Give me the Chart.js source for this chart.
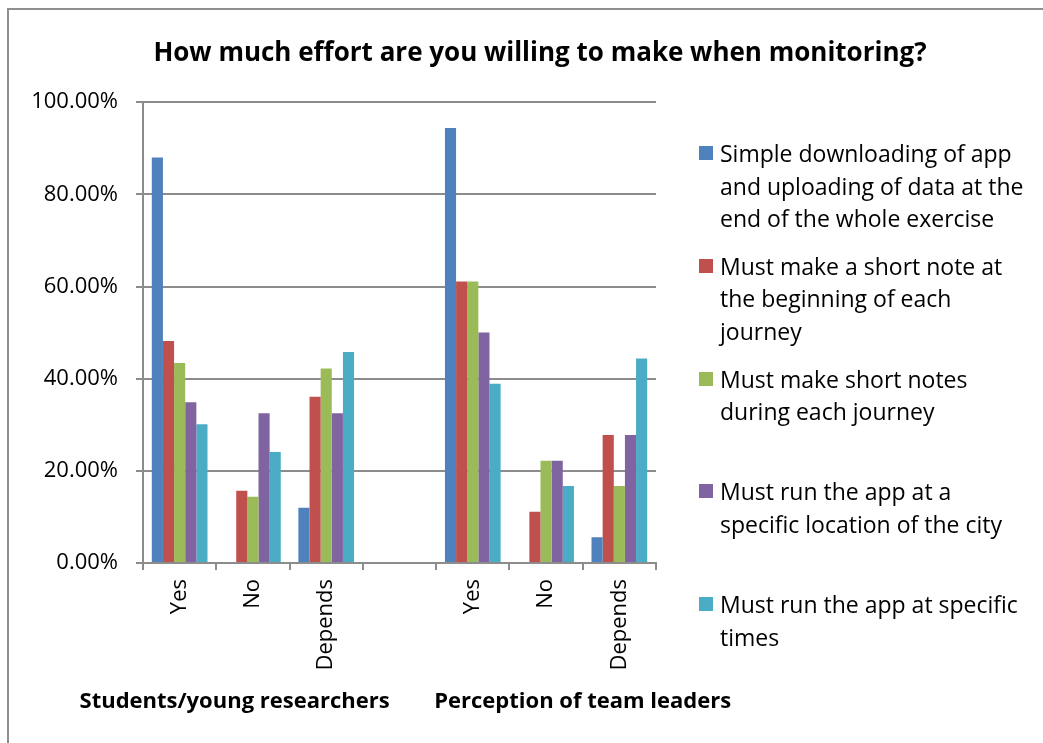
<!DOCTYPE html>
<html>
<head>
<meta charset="utf-8">
<script src="https://cdn.jsdelivr.net/npm/chart.js@4"></script>
<style>
  html, body { margin: 0; padding: 0; background: #fff; }
  #wrap { position: relative; width: 1043px; height: 743px; overflow: hidden; }
  #frame { position: absolute; left: 7px; top: 8px; right: -4px; bottom: -4px;
           border-left: 2px solid #8f8f8f; border-top: 2px solid #8f8f8f; }
  canvas { position: absolute; left: 0; top: 0; }
  #legend { position: absolute; left: 0; top: 0; font-family: 'Open Sans', sans-serif;
            font-size: 23px; line-height: 32.5px; color: #000; }
  .item { position: absolute; left: 699px; }
  .box { position: absolute; left: 0; top: 9px; width: 14px; height: 14px; }
  .txt { position: absolute; left: 21px; top: 0; white-space: nowrap; }
</style>
</head>
<body>
<div id="wrap">
  <div id="frame"></div>
  <canvas id="chart" width="1043" height="743"></canvas>
  <div id="legend"></div>
</div>
<script>
const categories = ['Yes', 'No', 'Depends', '', 'Yes', 'No', 'Depends'];
const groupLabels = ['Students/young researchers', 'Perception of team leaders'];

const seriesLabels = [
    ['Simple downloading of app', 'and uploading of data at the', 'end of the whole exercise'],
    ['Must make a short note at', 'the beginning of each', 'journey'],
    ['Must make short notes', 'during each journey'],
    ['Must run the app at a', 'specific location of the city'],
    ['Must run the app at specific', 'times']
];
const simpleDownload = [88.0, 0, 12.0, null, 94.4, 0, 5.6];
const shortNoteStart = [48.2, 15.7, 36.1, null, 61.1, 11.1, 27.8];
const shortNotesDuring = [43.4, 14.4, 42.2, null, 61.1, 22.2, 16.7];
const specificLocation = [34.9, 32.5, 32.5, null, 50.0, 22.2, 27.8];
const specificTimes = [30.1, 24.1, 45.8, null, 38.9, 16.7, 44.4];
const yTicks = [0, 20, 40, 60, 80, 100];

const colors = ['#4F81BD', '#C0504D', '#9BBB59', '#8064A2', '#4BACC6'];
const seriesValues = [simpleDownload, shortNoteStart, shortNotesDuring, specificLocation, specificTimes];
const gridColor = '#8c8c8c';

Chart.defaults.font.family = "'Open Sans', sans-serif";
Chart.defaults.color = '#000';

// group names under the category labels
const groupLabelPlugin = {
    id: 'groupLabels',
    afterDraw(chart) {
        const x = chart.scales.x;
        const ctx = chart.ctx;
        const centers = [x.getPixelForDecimal(1.25 / 7), x.getPixelForDecimal(6 / 7)];
        ctx.save();
        ctx.font = "bold 22px 'Open Sans', sans-serif";
        ctx.fillStyle = '#000';
        ctx.textAlign = 'center';
        ctx.textBaseline = 'middle';
        groupLabels.forEach((g, i) => ctx.fillText(g, centers[i], 702));
        ctx.restore();
    }
};

new Chart(document.getElementById('chart').getContext('2d'), {
    type: 'bar',
    data: {
        labels: categories,
        datasets: seriesValues.map((vals, i) => ({
            label: seriesLabels[i].join(' '),
            data: vals,
            backgroundColor: colors[i],
            borderWidth: 0,
            categoryPercentage: 0.76,
            barPercentage: 1.0
        }))
    },
    options: {
        responsive: false,
        animation: false,
        // right padding < 0 so the title centres where the original one does
        layout: { padding: { left: 20, right: -17, top: 0, bottom: 0 } },
        plugins: {
            legend: { display: false },
            tooltip: { enabled: false },
            title: {
                display: true,
                text: 'How much effort are you willing to make when monitoring?',
                font: { size: 26, weight: 'bold', lineHeight: 1.2 },
                color: '#000',
                padding: { top: 38, bottom: 33 }
            }
        },
        scales: {
            x: {
                afterFit(scale) { scale.height = 180; },
                grid: {
                    offset: true,
                    drawOnChartArea: false,
                    tickLength: 7,
                    color: gridColor,
                    lineWidth: 2
                },
                border: { color: gridColor, width: 2 },
                ticks: {
                    autoSkip: false,
                    minRotation: 90,
                    maxRotation: 90,
                    padding: 9,
                    font: { size: 22 }
                }
            },
            y: {
                min: 0,
                max: 100,
                afterFit(scale) { scale.width = 123; },
                afterBuildTicks(scale) { scale.ticks = yTicks.map(v => ({ value: v })); },
                grid: { color: gridColor, lineWidth: 2, tickLength: 7 },
                border: { color: gridColor, width: 2 },
                ticks: {
                    padding: 18,
                    font: { size: 22 },
                    callback: v => v.toFixed(2) + '%'
                }
            },
            legendSpace: {
                type: 'linear',
                position: 'right',
                display: true,
                afterFit(scale) { scale.width = 404; },
                grid: { display: false },
                border: { display: false },
                ticks: { display: false }
            }
        }
    },
    plugins: [groupLabelPlugin]
});

// legend on the right, one item per series
const legend = document.getElementById('legend');
seriesLabels.forEach((lines, i) => {
    const item = document.createElement('div');
    item.className = 'item';
    item.style.top = (137 + i * 112.75) + 'px';
    const box = document.createElement('div');
    box.className = 'box';
    box.style.background = colors[i];
    const txt = document.createElement('div');
    txt.className = 'txt';
    txt.innerHTML = lines.join('<br>');
    item.appendChild(box);
    item.appendChild(txt);
    legend.appendChild(item);
});
</script>
</body>
</html>
